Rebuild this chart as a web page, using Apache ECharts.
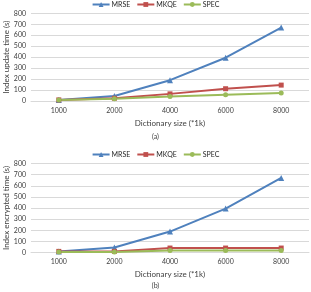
<!DOCTYPE html>
<html>
<head>
<meta charset="utf-8">
<script src="https://cdn.jsdelivr.net/npm/echarts@6/dist/echarts.min.js"></script>
<style>
html,body{margin:0;padding:0;background:#fff;}
#chart{width:311px;height:292px;}
</style>
</head>
<body>
<div id="chart"></div>
<script>
const sizes = ['1000', '2000', '4000', '6000', '8000'];
const yTicks = [0, 100, 200, 300, 400, 500, 600, 700, 800];
// (a) index update time
const updMRSE = [10, 45, 190, 395, 670];
const updMKQE = [10, 25, 65, 112, 145];
const updSPEC = [10, 20, 40, 58, 73];
// (b) index encrypted time
const encMRSE = [10, 45, 188, 395, 670];
const encMKQE = [10, 10, 40, 40, 40];
const encSPEC = [5, 5, 18, 18, 18];

const COLORS = {mrse: '#4F81BD', mkqe: '#C0504D', spec: '#9BBB59'};
const FONT = 'Lato';

const myChart = echarts.init(document.getElementById('chart'));

function mkSeries(name, data, idx, color, symbol) {
    return {
        name: name, type: 'line', data: data,
        xAxisIndex: idx, yAxisIndex: idx,
        symbol: symbol, symbolSize: symbol === 'triangle' ? 6 : 5,
        itemStyle: {color: color},
        lineStyle: {color: color, width: 2},
        animation: false
    };
}

const grids = [
    {left: 31, right: 2, top: 13.3, height: 87.7, outerBoundsMode: 'none', containLabel: false},
    {left: 31, right: 2, top: 163.5, height: 89, outerBoundsMode: 'none', containLabel: false}
];
const yNames = ['Index update time (s)', 'Index encrypted time (s)'];

const xAxes = grids.map((g, i) => ({
    type: 'category', gridIndex: i, data: sizes,
    name: 'Dictionary size (*1k)', nameLocation: 'middle', nameGap: 18, nameMoveOverlap: false,
    nameTextStyle: {fontFamily: FONT, fontSize: 8, color: '#404040'},
    axisLine: {lineStyle: {color: '#d9d9d9'}},
    axisTick: {show: false},
    axisLabel: {fontFamily: FONT, fontSize: 7, color: '#404040', margin: 6}
}));
const yAxes = grids.map((g, i) => ({
    type: 'value', gridIndex: i, min: yTicks[0], max: yTicks[yTicks.length - 1], interval: 100,
    name: yNames[i], nameLocation: 'middle', nameGap: 21, nameMoveOverlap: false,
    nameTextStyle: {fontFamily: FONT, fontSize: 8, color: '#404040'},
    axisLine: {show: false}, axisTick: {show: false},
    splitLine: {lineStyle: {color: '#d9d9d9', width: 1}},
    axisLabel: {fontFamily: FONT, fontSize: 7, color: '#404040', margin: 5}
}));

const legendBase = {
    left: 'center', itemWidth: 17, itemHeight: 6, itemGap: 6,
    textStyle: {fontFamily: FONT, fontSize: 7, color: '#262626', padding: [0, 0, 0, -3]},
    data: ['MRSE', 'MKQE', 'SPEC']
};

myChart.setOption({
    backgroundColor: '#ffffff',
    animation: false,
    title: [
        {text: '(a)', left: 'center', top: 133, textStyle: {fontFamily: FONT, fontSize: 7, fontWeight: 'normal', color: '#404040'}, padding: 0},
        {text: '(b)', left: 'center', top: 282, textStyle: {fontFamily: FONT, fontSize: 7, fontWeight: 'normal', color: '#404040'}, padding: 0}
    ],
    legend: [
        Object.assign({}, legendBase, {top: 0, padding: [1, 0, 0, 0]}),
        Object.assign({}, legendBase, {top: 150, padding: [1, 0, 0, 0]})
    ],
    grid: grids,
    xAxis: xAxes,
    yAxis: yAxes,
    series: [
        mkSeries('MRSE', updMRSE, 0, COLORS.mrse, 'triangle'),
        mkSeries('MKQE', updMKQE, 0, COLORS.mkqe, 'rect'),
        mkSeries('SPEC', updSPEC, 0, COLORS.spec, 'circle'),
        mkSeries('MRSE', encMRSE, 1, COLORS.mrse, 'triangle'),
        mkSeries('MKQE', encMKQE, 1, COLORS.mkqe, 'rect'),
        mkSeries('SPEC', encSPEC, 1, COLORS.spec, 'circle')
    ]
});
</script>
</body>
</html>
